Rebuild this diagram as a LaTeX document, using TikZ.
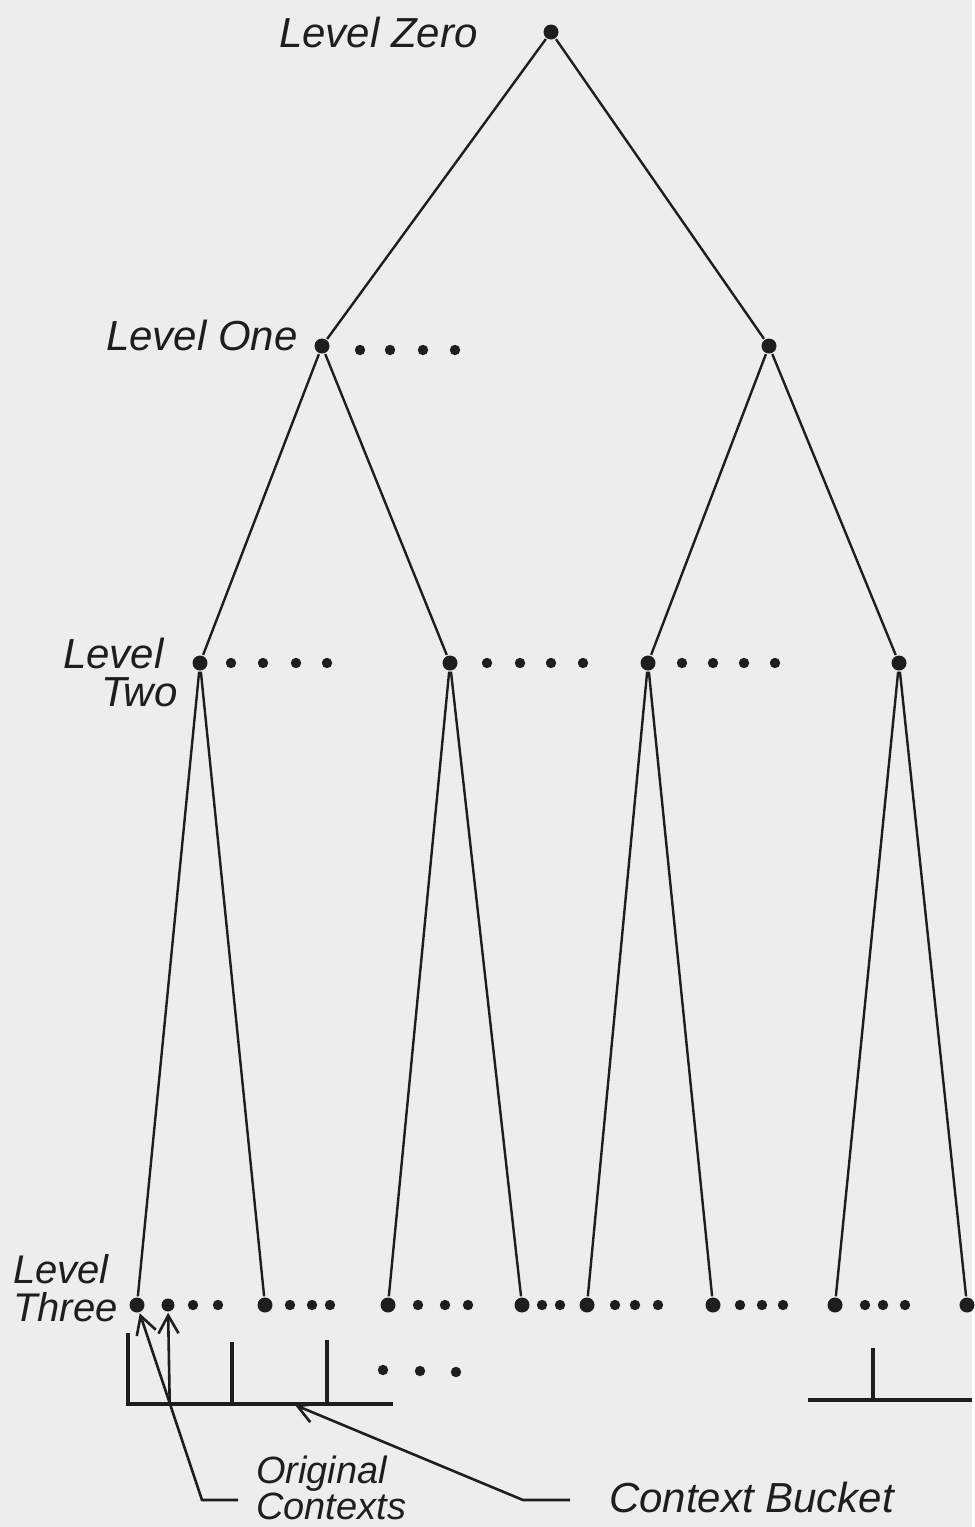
\documentclass[tikz,border=0pt]{standalone}
\usepackage{fontspec}
\setsansfont{Liberation Sans}
\usepackage{tikz}
\usetikzlibrary{arrows.meta}
\definecolor{paper}{HTML}{EDEDED}
\definecolor{ink}{HTML}{1E1E1E}

\begin{document}
\begin{tikzpicture}[
  x=0.5pt, y=-0.5pt,
  line width=1.2pt, draw=ink,
  vert/.style={circle, fill=ink, inner sep=0pt, minimum size=7.5pt},
  more/.style={circle, fill=ink, inner sep=0pt, minimum size=5.2pt},
  lbl/.style={font=\fontsize{21}{19}\selectfont\sffamily\itshape, text=ink,
    align=left, inner sep=0pt, anchor=west},
  lblsmall/.style={lbl, font=\fontsize{19}{14.5}\selectfont\sffamily\itshape},
  bucket/.style={line width=1.6pt},
  ptr/.style={line width=1.3pt, -{Straight Barb[length=9pt,width=10pt]}},
]
\fill[paper] (0,0) rectangle (972,1527);

% tree
\node[vert] (l0) at (551,32) {};

\node[vert] (l1a) at (322,346) {};
\node[vert] (l1b) at (769,346) {};

\node[vert] (l2a) at (200,663) {};
\node[vert] (l2b) at (450,663) {};
\node[vert] (l2c) at (648,663) {};
\node[vert] (l2d) at (899,663) {};

\node[vert] (l3a) at (137,1305) {};
\node[vert] (l3b) at (265,1305) {};
\node[vert] (l3c) at (388,1305) {};
\node[vert] (l3d) at (522,1305) {};
\node[vert] (l3e) at (587,1305) {};
\node[vert] (l3f) at (713,1305) {};
\node[vert] (l3g) at (835,1305) {};
\node[vert] (l3h) at (967,1305) {};
\node[vert, minimum size=6.5pt] (l3ctx) at (168,1305) {};

\draw (l0) -- (l1a);
\draw (l0) -- (l1b);
\draw (l1a) -- (l2a);
\draw (l1a) -- (l2b);
\draw (l1b) -- (l2c);
\draw (l1b) -- (l2d);
\draw (l2a) -- (l3a);
\draw (l2a) -- (l3b);
\draw (l2b) -- (l3c);
\draw (l2b) -- (l3d);
\draw (l2c) -- (l3e);
\draw (l2c) -- (l3f);
\draw (l2d) -- (l3g);
\draw (l2d) -- (l3h);

% siblings left out
\foreach \x in {360,390,423,455}
  \node[more] (one-\x) at (\x,350) {};
\foreach \x in {231,263,296,327,487,520,551,583,682,713,744,775}
  \node[more] (two-\x) at (\x,663) {};
\foreach \x in {193,218,290,312,330,418,445,468,542,560,615,635,658,740,762,783,865,883,905}
  \node[more] (three-\x) at (\x,1305) {};
\foreach \x/\y in {383/1370,420/1371,456/1372}
  \node[more] (bkt-\x) at (\x,\y) {};

% buckets
\draw[bucket] (128,1333) -- (128,1404) -- (393,1404);
\draw[bucket] (232,1342) -- (232,1404);
\draw[bucket] (327,1340) -- (327,1404);
\draw[bucket] (808,1400) -- (972,1400);
\draw[bucket] (873,1348) -- (873,1400);

% labels
\node[lbl] (zero) at (278,32) {Level Zero};
\node[lbl] (one) at (105,335) {Level One};
\node[lbl] (two) at (62,672) {Level\\\hspace*{19pt}Two};
\node[lbl, font=\fontsize{20}{19}\selectfont\sffamily\itshape] (three) at (12,1288) {Level\\Three};
\node[lblsmall] (orig) at (255,1488) {Original\\Contexts};
\node[lbl] (ctxb) at (608,1497) {Context Bucket};

% pointers
\coordinate (oc-end) at (238,1500);
\coordinate (oc) at (202,1500);
\coordinate (oc-fork) at (169.7,1403);
\coordinate (cb-end) at (570,1500);
\coordinate (cb) at (523,1500);
\coordinate (bkt) at (295,1405);
\draw[ptr] (oc-end) -- (oc) -- (l3a);
\draw[ptr] (oc-fork) -- (l3ctx);
\draw[ptr] (cb-end) -- (cb) -- (bkt);
\end{tikzpicture}
\end{document}
